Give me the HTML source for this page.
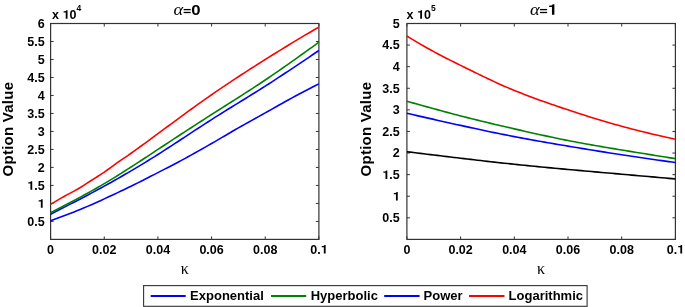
<!DOCTYPE html>
<html><head><meta charset="utf-8"><style>
html,body{margin:0;padding:0;background:#fff;width:685px;height:307px;overflow:hidden}
svg{display:block;position:absolute;left:0;top:0}
#t{filter:grayscale(1)}
</style></head><body>
<svg width="685" height="307" viewBox="0 0 685 307">
<rect width="685" height="307" fill="#fff"/>
<g stroke="#333333" stroke-width="1.0" fill="none">
<line x1="50.60" y1="239.4" x2="50.60" y2="236.4"/>
<line x1="50.60" y1="23.5" x2="50.60" y2="26.5"/>
<line x1="104.26" y1="239.4" x2="104.26" y2="236.4"/>
<line x1="104.26" y1="23.5" x2="104.26" y2="26.5"/>
<line x1="157.92" y1="239.4" x2="157.92" y2="236.4"/>
<line x1="157.92" y1="23.5" x2="157.92" y2="26.5"/>
<line x1="211.58" y1="239.4" x2="211.58" y2="236.4"/>
<line x1="211.58" y1="23.5" x2="211.58" y2="26.5"/>
<line x1="265.24" y1="239.4" x2="265.24" y2="236.4"/>
<line x1="265.24" y1="23.5" x2="265.24" y2="26.5"/>
<line x1="318.90" y1="239.4" x2="318.90" y2="236.4"/>
<line x1="318.90" y1="23.5" x2="318.90" y2="26.5"/>
<line x1="50.6" y1="221.41" x2="53.6" y2="221.41"/>
<line x1="318.9" y1="221.41" x2="315.9" y2="221.41"/>
<line x1="50.6" y1="203.42" x2="53.6" y2="203.42"/>
<line x1="318.9" y1="203.42" x2="315.9" y2="203.42"/>
<line x1="50.6" y1="185.43" x2="53.6" y2="185.43"/>
<line x1="318.9" y1="185.43" x2="315.9" y2="185.43"/>
<line x1="50.6" y1="167.43" x2="53.6" y2="167.43"/>
<line x1="318.9" y1="167.43" x2="315.9" y2="167.43"/>
<line x1="50.6" y1="149.44" x2="53.6" y2="149.44"/>
<line x1="318.9" y1="149.44" x2="315.9" y2="149.44"/>
<line x1="50.6" y1="131.45" x2="53.6" y2="131.45"/>
<line x1="318.9" y1="131.45" x2="315.9" y2="131.45"/>
<line x1="50.6" y1="113.46" x2="53.6" y2="113.46"/>
<line x1="318.9" y1="113.46" x2="315.9" y2="113.46"/>
<line x1="50.6" y1="95.47" x2="53.6" y2="95.47"/>
<line x1="318.9" y1="95.47" x2="315.9" y2="95.47"/>
<line x1="50.6" y1="77.47" x2="53.6" y2="77.47"/>
<line x1="318.9" y1="77.47" x2="315.9" y2="77.47"/>
<line x1="50.6" y1="59.48" x2="53.6" y2="59.48"/>
<line x1="318.9" y1="59.48" x2="315.9" y2="59.48"/>
<line x1="50.6" y1="41.49" x2="53.6" y2="41.49"/>
<line x1="318.9" y1="41.49" x2="315.9" y2="41.49"/>
<line x1="50.6" y1="23.50" x2="53.6" y2="23.50"/>
<line x1="318.9" y1="23.50" x2="315.9" y2="23.50"/>
<rect x="50.6" y="23.5" width="268.30" height="215.90" fill="none" stroke-width="1.2"/>
<line x1="406.90" y1="239.4" x2="406.90" y2="236.4"/>
<line x1="406.90" y1="23.5" x2="406.90" y2="26.5"/>
<line x1="460.60" y1="239.4" x2="460.60" y2="236.4"/>
<line x1="460.60" y1="23.5" x2="460.60" y2="26.5"/>
<line x1="514.30" y1="239.4" x2="514.30" y2="236.4"/>
<line x1="514.30" y1="23.5" x2="514.30" y2="26.5"/>
<line x1="568.00" y1="239.4" x2="568.00" y2="236.4"/>
<line x1="568.00" y1="23.5" x2="568.00" y2="26.5"/>
<line x1="621.70" y1="239.4" x2="621.70" y2="236.4"/>
<line x1="621.70" y1="23.5" x2="621.70" y2="26.5"/>
<line x1="675.40" y1="239.4" x2="675.40" y2="236.4"/>
<line x1="675.40" y1="23.5" x2="675.40" y2="26.5"/>
<line x1="406.9" y1="217.81" x2="409.9" y2="217.81"/>
<line x1="675.4" y1="217.81" x2="672.4" y2="217.81"/>
<line x1="406.9" y1="196.22" x2="409.9" y2="196.22"/>
<line x1="675.4" y1="196.22" x2="672.4" y2="196.22"/>
<line x1="406.9" y1="174.63" x2="409.9" y2="174.63"/>
<line x1="675.4" y1="174.63" x2="672.4" y2="174.63"/>
<line x1="406.9" y1="153.04" x2="409.9" y2="153.04"/>
<line x1="675.4" y1="153.04" x2="672.4" y2="153.04"/>
<line x1="406.9" y1="131.45" x2="409.9" y2="131.45"/>
<line x1="675.4" y1="131.45" x2="672.4" y2="131.45"/>
<line x1="406.9" y1="109.86" x2="409.9" y2="109.86"/>
<line x1="675.4" y1="109.86" x2="672.4" y2="109.86"/>
<line x1="406.9" y1="88.27" x2="409.9" y2="88.27"/>
<line x1="675.4" y1="88.27" x2="672.4" y2="88.27"/>
<line x1="406.9" y1="66.68" x2="409.9" y2="66.68"/>
<line x1="675.4" y1="66.68" x2="672.4" y2="66.68"/>
<line x1="406.9" y1="45.09" x2="409.9" y2="45.09"/>
<line x1="675.4" y1="45.09" x2="672.4" y2="45.09"/>
<line x1="406.9" y1="23.50" x2="409.9" y2="23.50"/>
<line x1="675.4" y1="23.50" x2="672.4" y2="23.50"/>
<rect x="406.9" y="23.5" width="268.50" height="215.90" fill="none" stroke-width="1.2"/>
</g>
<g fill="none" stroke-width="1.6" stroke-linejoin="round" stroke-linecap="butt">
<path d="M50.60,220.69 L53.95,219.52 L57.31,218.32 L60.66,217.10 L64.02,215.85 L67.37,214.58 L70.72,213.28 L74.08,211.96 L77.43,210.61 L80.78,209.24 L84.14,207.83 L87.49,206.39 L90.84,204.92 L94.20,203.43 L97.55,201.92 L100.91,200.41 L104.26,198.88 L107.61,197.35 L110.97,195.80 L114.32,194.23 L117.67,192.65 L121.03,191.05 L124.38,189.44 L127.74,187.82 L131.09,186.18 L134.44,184.53 L137.80,182.86 L141.15,181.18 L144.50,179.48 L147.86,177.77 L151.21,176.06 L154.57,174.34 L157.92,172.61 L161.27,170.89 L164.63,169.16 L167.98,167.43 L171.33,165.69 L174.69,163.94 L178.04,162.17 L181.40,160.39 L184.75,158.58 L188.10,156.75 L191.46,154.90 L194.81,153.03 L198.16,151.14 L201.52,149.24 L204.87,147.34 L208.23,145.42 L211.58,143.50 L214.93,141.57 L218.29,139.62 L221.64,137.66 L224.99,135.69 L228.35,133.72 L231.70,131.76 L235.06,129.81 L238.41,127.89 L241.76,125.98 L245.12,124.09 L248.47,122.22 L251.82,120.35 L255.18,118.48 L258.53,116.62 L261.89,114.75 L265.24,112.88 L268.59,111.00 L271.95,109.11 L275.30,107.21 L278.65,105.31 L282.01,103.43 L285.36,101.56 L288.72,99.70 L292.07,97.88 L295.42,96.07 L298.78,94.29 L302.13,92.51 L305.48,90.76 L308.84,89.01 L312.19,87.29 L315.55,85.57 L318.90,83.88" stroke="#0000ff"/>
<path d="M50.60,214.21 L53.95,212.50 L57.31,210.79 L60.66,209.07 L64.02,207.36 L67.37,205.64 L70.72,203.91 L74.08,202.18 L77.43,200.44 L80.78,198.69 L84.14,196.93 L87.49,195.17 L90.84,193.39 L94.20,191.60 L97.55,189.80 L100.91,187.98 L104.26,186.14 L107.61,184.30 L110.97,182.43 L114.32,180.55 L117.67,178.65 L121.03,176.73 L124.38,174.80 L127.74,172.85 L131.09,170.88 L134.44,168.89 L137.80,166.89 L141.15,164.87 L144.50,162.83 L147.86,160.77 L151.21,158.69 L154.57,156.60 L157.92,154.48 L161.27,152.34 L164.63,150.19 L167.98,148.03 L171.33,145.85 L174.69,143.66 L178.04,141.46 L181.40,139.26 L184.75,137.06 L188.10,134.85 L191.46,132.65 L194.81,130.44 L198.16,128.25 L201.52,126.06 L204.87,123.89 L208.23,121.72 L211.58,119.58 L214.93,117.44 L218.29,115.33 L221.64,113.23 L224.99,111.13 L228.35,109.05 L231.70,106.98 L235.06,104.90 L238.41,102.84 L241.76,100.77 L245.12,98.70 L248.47,96.62 L251.82,94.54 L255.18,92.45 L258.53,90.35 L261.89,88.24 L265.24,86.11 L268.59,83.97 L271.95,81.81 L275.30,79.63 L278.65,77.44 L282.01,75.24 L285.36,73.03 L288.72,70.81 L292.07,68.57 L295.42,66.33 L298.78,64.08 L302.13,61.82 L305.48,59.56 L308.84,57.30 L312.19,55.03 L315.55,52.76 L318.90,50.49" stroke="#0000ff"/>
<path d="M50.60,212.77 L53.95,211.03 L57.31,209.29 L60.66,207.54 L64.02,205.78 L67.37,204.02 L70.72,202.25 L74.08,200.47 L77.43,198.68 L80.78,196.87 L84.14,195.04 L87.49,193.20 L90.84,191.33 L94.20,189.44 L97.55,187.53 L100.91,185.59 L104.26,183.63 L107.61,181.63 L110.97,179.61 L114.32,177.56 L117.67,175.48 L121.03,173.39 L124.38,171.27 L127.74,169.14 L131.09,166.99 L134.44,164.82 L137.80,162.65 L141.15,160.46 L144.50,158.27 L147.86,156.06 L151.21,153.86 L154.57,151.65 L157.92,149.44 L161.27,147.23 L164.63,145.03 L167.98,142.83 L171.33,140.63 L174.69,138.43 L178.04,136.23 L181.40,134.04 L184.75,131.85 L188.10,129.67 L191.46,127.49 L194.81,125.32 L198.16,123.15 L201.52,120.99 L204.87,118.83 L208.23,116.68 L211.58,114.54 L214.93,112.40 L218.29,110.27 L221.64,108.14 L224.99,106.01 L228.35,103.89 L231.70,101.76 L235.06,99.62 L238.41,97.49 L241.76,95.34 L245.12,93.19 L248.47,91.03 L251.82,88.85 L255.18,86.66 L258.53,84.46 L261.89,82.23 L265.24,79.99 L268.59,77.73 L271.95,75.45 L275.30,73.15 L278.65,70.84 L282.01,68.51 L285.36,66.16 L288.72,63.80 L292.07,61.43 L295.42,59.05 L298.78,56.66 L302.13,54.27 L305.48,51.86 L308.84,49.46 L312.19,47.04 L315.55,44.63 L318.90,42.21" stroke="#008000"/>
<path d="M50.60,204.32 L53.95,202.32 L57.31,200.35 L60.66,198.41 L64.02,196.51 L67.37,194.67 L70.72,192.89 L74.08,191.09 L77.43,189.20 L80.78,187.19 L84.14,185.08 L87.49,182.93 L90.84,180.78 L94.20,178.66 L97.55,176.52 L100.91,174.35 L104.26,172.11 L107.61,169.75 L110.97,167.29 L114.32,164.81 L117.67,162.40 L121.03,160.09 L124.38,157.83 L127.74,155.57 L131.09,153.26 L134.44,150.87 L137.80,148.45 L141.15,145.99 L144.50,143.52 L147.86,141.03 L151.21,138.54 L154.57,136.07 L157.92,133.61 L161.27,131.16 L164.63,128.70 L167.98,126.24 L171.33,123.77 L174.69,121.30 L178.04,118.83 L181.40,116.37 L184.75,113.91 L188.10,111.46 L191.46,109.02 L194.81,106.60 L198.16,104.19 L201.52,101.79 L204.87,99.42 L208.23,97.07 L211.58,94.75 L214.93,92.44 L218.29,90.15 L221.64,87.88 L224.99,85.62 L228.35,83.37 L231.70,81.14 L235.06,78.92 L238.41,76.71 L241.76,74.52 L245.12,72.34 L248.47,70.17 L251.82,68.01 L255.18,65.86 L258.53,63.72 L261.89,61.60 L265.24,59.48 L268.59,57.38 L271.95,55.28 L275.30,53.20 L278.65,51.13 L282.01,49.06 L285.36,47.01 L288.72,44.97 L292.07,42.94 L295.42,40.92 L298.78,38.91 L302.13,36.91 L305.48,34.93 L308.84,32.95 L312.19,30.99 L315.55,29.04 L318.90,27.10" stroke="#ff0000"/>
<path d="M406.90,151.74 L410.26,152.15 L413.61,152.56 L416.97,152.97 L420.32,153.38 L423.68,153.79 L427.04,154.19 L430.39,154.60 L433.75,155.01 L437.11,155.41 L440.46,155.82 L443.82,156.22 L447.17,156.62 L450.53,157.02 L453.89,157.42 L457.24,157.82 L460.60,158.22 L463.96,158.62 L467.31,159.01 L470.67,159.41 L474.02,159.80 L477.38,160.19 L480.74,160.57 L484.09,160.96 L487.45,161.34 L490.81,161.71 L494.16,162.09 L497.52,162.46 L500.88,162.83 L504.23,163.20 L507.59,163.56 L510.94,163.91 L514.30,164.27 L517.66,164.62 L521.01,164.96 L524.37,165.30 L527.72,165.64 L531.08,165.97 L534.44,166.30 L537.79,166.63 L541.15,166.95 L544.51,167.27 L547.86,167.59 L551.22,167.90 L554.57,168.22 L557.93,168.53 L561.29,168.84 L564.64,169.14 L568.00,169.45 L571.36,169.75 L574.71,170.05 L578.07,170.35 L581.42,170.65 L584.78,170.95 L588.14,171.25 L591.49,171.55 L594.85,171.84 L598.21,172.14 L601.56,172.43 L604.92,172.73 L608.27,173.02 L611.63,173.32 L614.99,173.61 L618.34,173.90 L621.70,174.20 L625.06,174.49 L628.41,174.79 L631.77,175.08 L635.12,175.38 L638.48,175.68 L641.84,175.97 L645.19,176.27 L648.55,176.57 L651.91,176.86 L655.26,177.16 L658.62,177.46 L661.97,177.76 L665.33,178.05 L668.69,178.35 L672.04,178.65 L675.40,178.95" stroke="#000000"/>
<path d="M406.90,113.31 L410.26,114.08 L413.61,114.84 L416.97,115.60 L420.32,116.37 L423.68,117.13 L427.04,117.89 L430.39,118.65 L433.75,119.40 L437.11,120.16 L440.46,120.92 L443.82,121.67 L447.17,122.42 L450.53,123.17 L453.89,123.92 L457.24,124.66 L460.60,125.40 L463.96,126.14 L467.31,126.88 L470.67,127.61 L474.02,128.34 L477.38,129.06 L480.74,129.78 L484.09,130.50 L487.45,131.21 L490.81,131.91 L494.16,132.61 L497.52,133.30 L500.88,133.98 L504.23,134.65 L507.59,135.32 L510.94,135.98 L514.30,136.63 L517.66,137.27 L521.01,137.91 L524.37,138.53 L527.72,139.15 L531.08,139.76 L534.44,140.36 L537.79,140.96 L541.15,141.55 L544.51,142.14 L547.86,142.72 L551.22,143.30 L554.57,143.87 L557.93,144.44 L561.29,145.01 L564.64,145.57 L568.00,146.13 L571.36,146.69 L574.71,147.25 L578.07,147.81 L581.42,148.36 L584.78,148.91 L588.14,149.46 L591.49,150.01 L594.85,150.55 L598.21,151.09 L601.56,151.63 L604.92,152.16 L608.27,152.69 L611.63,153.22 L614.99,153.74 L618.34,154.25 L621.70,154.77 L625.06,155.28 L628.41,155.78 L631.77,156.28 L635.12,156.78 L638.48,157.27 L641.84,157.76 L645.19,158.24 L648.55,158.73 L651.91,159.21 L655.26,159.69 L658.62,160.17 L661.97,160.64 L665.33,161.12 L668.69,161.59 L672.04,162.07 L675.40,162.54" stroke="#0000ff"/>
<path d="M406.90,101.22 L410.26,102.17 L413.61,103.11 L416.97,104.05 L420.32,104.99 L423.68,105.93 L427.04,106.86 L430.39,107.79 L433.75,108.72 L437.11,109.64 L440.46,110.55 L443.82,111.46 L447.17,112.37 L450.53,113.26 L453.89,114.15 L457.24,115.03 L460.60,115.91 L463.96,116.77 L467.31,117.62 L470.67,118.46 L474.02,119.30 L477.38,120.13 L480.74,120.95 L484.09,121.76 L487.45,122.57 L490.81,123.37 L494.16,124.17 L497.52,124.96 L500.88,125.75 L504.23,126.53 L507.59,127.31 L510.94,128.09 L514.30,128.86 L517.66,129.63 L521.01,130.40 L524.37,131.16 L527.72,131.92 L531.08,132.68 L534.44,133.43 L537.79,134.17 L541.15,134.91 L544.51,135.64 L547.86,136.37 L551.22,137.08 L554.57,137.79 L557.93,138.49 L561.29,139.17 L564.64,139.85 L568.00,140.52 L571.36,141.17 L574.71,141.82 L578.07,142.45 L581.42,143.08 L584.78,143.69 L588.14,144.30 L591.49,144.90 L594.85,145.49 L598.21,146.07 L601.56,146.65 L604.92,147.22 L608.27,147.79 L611.63,148.35 L614.99,148.91 L618.34,149.46 L621.70,150.02 L625.06,150.57 L628.41,151.12 L631.77,151.66 L635.12,152.21 L638.48,152.75 L641.84,153.29 L645.19,153.83 L648.55,154.37 L651.91,154.91 L655.26,155.44 L658.62,155.98 L661.97,156.52 L665.33,157.05 L668.69,157.59 L672.04,158.12 L675.40,158.65" stroke="#008000"/>
<path d="M406.90,36.02 L410.26,38.08 L413.61,40.11 L416.97,42.11 L420.32,44.08 L423.68,46.02 L427.04,47.93 L430.39,49.81 L433.75,51.65 L437.11,53.46 L440.46,55.24 L443.82,56.98 L447.17,58.70 L450.53,60.40 L453.89,62.07 L457.24,63.73 L460.60,65.38 L463.96,67.03 L467.31,68.68 L470.67,70.33 L474.02,71.98 L477.38,73.61 L480.74,75.24 L484.09,76.86 L487.45,78.46 L490.81,80.05 L494.16,81.61 L497.52,83.16 L500.88,84.67 L504.23,86.16 L507.59,87.62 L510.94,89.04 L514.30,90.43 L517.66,91.78 L521.01,93.11 L524.37,94.42 L527.72,95.71 L531.08,96.97 L534.44,98.22 L537.79,99.45 L541.15,100.66 L544.51,101.85 L547.86,103.03 L551.22,104.19 L554.57,105.35 L557.93,106.49 L561.29,107.62 L564.64,108.74 L568.00,109.86 L571.36,110.97 L574.71,112.07 L578.07,113.16 L581.42,114.25 L584.78,115.32 L588.14,116.39 L591.49,117.44 L594.85,118.48 L598.21,119.51 L601.56,120.52 L604.92,121.52 L608.27,122.50 L611.63,123.47 L614.99,124.42 L618.34,125.35 L621.70,126.27 L625.06,127.17 L628.41,128.06 L631.77,128.94 L635.12,129.80 L638.48,130.66 L641.84,131.50 L645.19,132.33 L648.55,133.15 L651.91,133.96 L655.26,134.75 L658.62,135.53 L661.97,136.30 L665.33,137.05 L668.69,137.79 L672.04,138.51 L675.40,139.22" stroke="#ff0000"/>
</g>
<rect x="143.6" y="285.6" width="443.5" height="20.7" fill="#fff" stroke="#333333" stroke-width="1.1"/>
<line x1="150.7" y1="296.0" x2="185.7" y2="296.0" stroke="#0000ff" stroke-width="1.8"/>
<line x1="271" y1="296.0" x2="306.2" y2="296.0" stroke="#008000" stroke-width="1.8"/>
<line x1="384.2" y1="296.0" x2="419.6" y2="296.0" stroke="#0000ff" stroke-width="1.8"/>
<line x1="469" y1="296.0" x2="504.5" y2="296.0" stroke="#ff0000" stroke-width="1.8"/>
</svg>
<svg id="t" width="685" height="307" viewBox="0 0 685 307" fill="#000">
<g font-family="'Liberation Sans', sans-serif" font-weight="bold">
<text x="47.12" y="253.50" font-size="12.5" xml:space="preserve">0</text>
<text x="92.10" y="253.50" font-size="12.5" xml:space="preserve">0.02</text>
<text x="145.76" y="253.50" font-size="12.5" xml:space="preserve">0.04</text>
<text x="199.42" y="253.50" font-size="12.5" xml:space="preserve">0.06</text>
<text x="253.08" y="253.50" font-size="12.5" xml:space="preserve">0.08</text>
<text x="310.21" y="253.50" font-size="12.5">0.</text>
<path transform="translate(320.64,253.50) scale(0.01250,-0.01250)" d="M255,0L400,0L400,688L300,688C285,640 240,610 150,605L85,603L85,505L255,505Z"/>
<text x="27.23" y="225.81" font-size="12.5" xml:space="preserve">0.5</text>
<path transform="translate(37.65,207.82) scale(0.01250,-0.01250)" d="M255,0L400,0L400,688L300,688C285,640 240,610 150,605L85,603L85,505L255,505Z"/>
<path transform="translate(27.23,189.83) scale(0.01250,-0.01250)" d="M255,0L400,0L400,688L300,688C285,640 240,610 150,605L85,603L85,505L255,505Z"/>
<text x="34.18" y="189.83" font-size="12.5" xml:space="preserve">.5</text>
<text x="37.65" y="171.83" font-size="12.5" xml:space="preserve">2</text>
<text x="27.23" y="153.84" font-size="12.5" xml:space="preserve">2.5</text>
<text x="37.65" y="135.85" font-size="12.5" xml:space="preserve">3</text>
<text x="27.23" y="117.86" font-size="12.5" xml:space="preserve">3.5</text>
<text x="37.65" y="99.87" font-size="12.5" xml:space="preserve">4</text>
<text x="27.23" y="81.88" font-size="12.5" xml:space="preserve">4.5</text>
<text x="37.65" y="63.88" font-size="12.5" xml:space="preserve">5</text>
<text x="27.23" y="45.89" font-size="12.5" xml:space="preserve">5.5</text>
<text x="37.65" y="27.90" font-size="12.5" xml:space="preserve">6</text>
<text x="403.42" y="253.50" font-size="12.5" xml:space="preserve">0</text>
<text x="448.44" y="253.50" font-size="12.5" xml:space="preserve">0.02</text>
<text x="502.14" y="253.50" font-size="12.5" xml:space="preserve">0.04</text>
<text x="555.84" y="253.50" font-size="12.5" xml:space="preserve">0.06</text>
<text x="609.54" y="253.50" font-size="12.5" xml:space="preserve">0.08</text>
<text x="666.71" y="253.50" font-size="12.5">0.</text>
<path transform="translate(677.14,253.50) scale(0.01250,-0.01250)" d="M255,0L400,0L400,688L300,688C285,640 240,610 150,605L85,603L85,505L255,505Z"/>
<text x="382.32" y="222.21" font-size="12.5" xml:space="preserve">0.5</text>
<path transform="translate(392.75,200.62) scale(0.01250,-0.01250)" d="M255,0L400,0L400,688L300,688C285,640 240,610 150,605L85,603L85,505L255,505Z"/>
<path transform="translate(382.32,179.03) scale(0.01250,-0.01250)" d="M255,0L400,0L400,688L300,688C285,640 240,610 150,605L85,603L85,505L255,505Z"/>
<text x="389.27" y="179.03" font-size="12.5" xml:space="preserve">.5</text>
<text x="392.75" y="157.44" font-size="12.5" xml:space="preserve">2</text>
<text x="382.32" y="135.85" font-size="12.5" xml:space="preserve">2.5</text>
<text x="392.75" y="114.26" font-size="12.5" xml:space="preserve">3</text>
<text x="382.32" y="92.67" font-size="12.5" xml:space="preserve">3.5</text>
<text x="392.75" y="71.08" font-size="12.5" xml:space="preserve">4</text>
<text x="382.32" y="49.49" font-size="12.5" xml:space="preserve">4.5</text>
<text x="392.75" y="27.90" font-size="12.5" xml:space="preserve">5</text>
<text x="52.10" y="18.80" font-size="12.5">x </text>
<path transform="translate(62.53,18.80) scale(0.01250,-0.01250)" d="M255,0L400,0L400,688L300,688C285,640 240,610 150,605L85,603L85,505L255,505Z"/>
<text x="69.48" y="18.80" font-size="12.5" xml:space="preserve">0</text>
<text x="76.60" y="10.8" font-size="8.5">4</text>
<text x="406.60" y="18.80" font-size="12.5">x </text>
<path transform="translate(417.02,18.80) scale(0.01250,-0.01250)" d="M255,0L400,0L400,688L300,688C285,640 240,610 150,605L85,603L85,505L255,505Z"/>
<text x="423.97" y="18.80" font-size="12.5" xml:space="preserve">0</text>
<text x="431.10" y="10.8" font-size="8.5">5</text>
<g transform="translate(173.50,15.2) scale(1,0.9)"><text x="0" y="0" font-family="'Liberation Serif', serif" font-weight="normal" font-style="italic" font-size="18.5">&#945;</text></g>
<rect x="183.60" y="8.95" width="7.1" height="1.3"/>
<rect x="183.60" y="11.85" width="7.1" height="1.3"/>
<g transform="translate(191.30,0) scale(1.1,1)">
<text x="0.00" y="14.80" font-size="15.2" xml:space="preserve">0</text>
</g>
<g transform="translate(529.90,15.2) scale(1,0.9)"><text x="0" y="0" font-family="'Liberation Serif', serif" font-weight="normal" font-style="italic" font-size="18.5">&#945;</text></g>
<rect x="540.00" y="8.95" width="7.1" height="1.3"/>
<rect x="540.00" y="11.85" width="7.1" height="1.3"/>
<g transform="translate(547.70,0) scale(1.1,1)">
<path transform="translate(0.00,14.80) scale(0.01520,-0.01520)" d="M255,0L400,0L400,688L300,688C285,640 240,610 150,605L85,603L85,505L255,505Z"/>
</g>
<text x="184.75" y="274" text-anchor="middle" font-family="'Liberation Serif', serif" font-weight="normal" font-size="16">&#954;</text>
<text x="541.15" y="274" text-anchor="middle" font-family="'Liberation Serif', serif" font-weight="normal" font-size="16">&#954;</text>
<text transform="translate(12.8,129.1) rotate(-90)" text-anchor="middle" font-size="15" letter-spacing="0.25">Option Value</text>
<text transform="translate(371.0,129.1) rotate(-90)" text-anchor="middle" font-size="15" letter-spacing="0.25">Option Value</text>
<text x="190.1" y="300.1" font-size="13">Exponential</text>
<text x="310.7" y="300.1" font-size="13">Hyperbolic</text>
<text x="423.6" y="300.1" font-size="13">Power</text>
<text x="508.6" y="300.1" font-size="13">Logarithmic</text>
</g>
</svg>
</body></html>
